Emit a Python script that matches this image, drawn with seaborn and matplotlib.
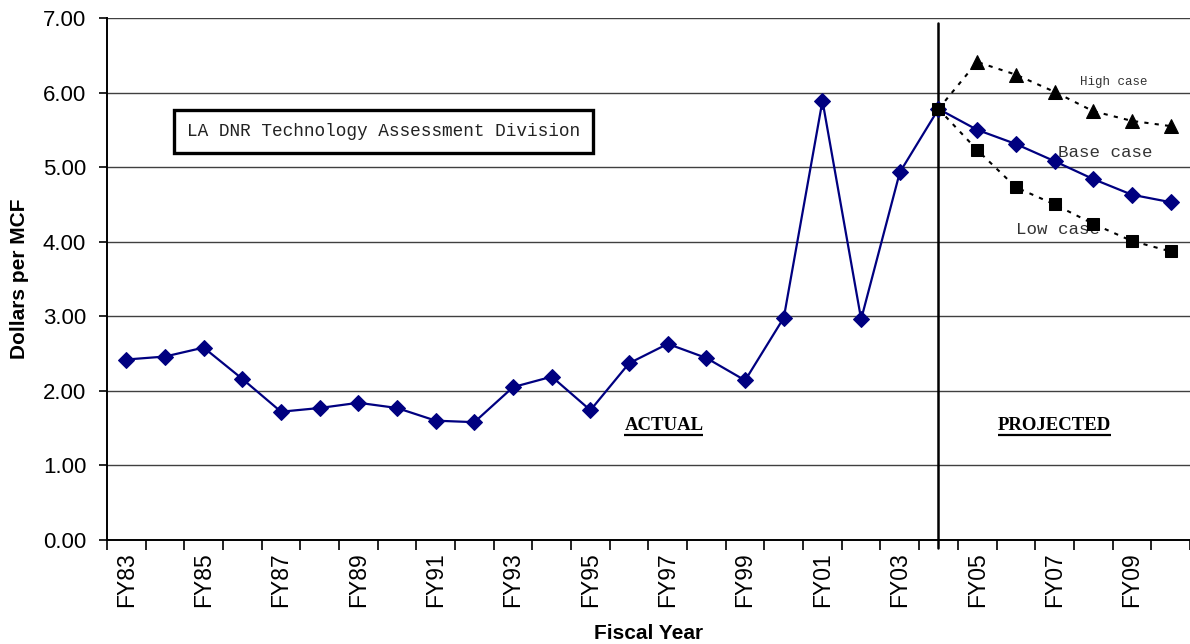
"""Louisiana natural gas price: actual (FY83-FY04) and projected cases (FY04-FY10)."""
import matplotlib

matplotlib.use("Agg")

import matplotlib.pyplot as plt  # noqa: E402
import pandas as pd  # noqa: E402
import seaborn as sns  # noqa: E402

YEARS = [f"FY{y % 100:02d}" for y in range(1983, 2011)]

# Actual price FY83..FY04, then base case FY05..FY10 (one continuous series)
ACTUAL = [2.42, 2.46, 2.58, 2.16, 1.72, 1.77, 1.84, 1.77, 1.60, 1.58,
          2.05, 2.19, 1.74, 2.37, 2.63, 2.44, 2.14, 2.98, 5.89, 2.96,
          4.93, 5.78]
BASE = [5.50, 5.31, 5.08, 4.84, 4.63, 4.53]

# Projection cases start at FY04
PROJ_YEARS = YEARS[21:]
HIGH = [5.78, 6.41, 6.24, 6.01, 5.75, 5.62, 5.55]
LOW = [5.78, 5.23, 4.73, 4.50, 4.24, 4.01, 3.87]

LABELED_YEARS = YEARS[:-1:2]
Y_TICKS = [0, 1, 2, 3, 4, 5, 6, 7]

NAVY = "#000080"

sns.set_theme(style="white")
plt.rcParams["font.family"] = ["Liberation Sans", "DejaVu Sans"]
plt.rcParams["text.color"] = "black"
plt.rcParams["axes.labelcolor"] = "black"
plt.rcParams["xtick.color"] = "black"
plt.rcParams["ytick.color"] = "black"

main = pd.DataFrame({"year": YEARS, "price": ACTUAL + BASE})
proj = pd.DataFrame({"year": PROJ_YEARS, "high": HIGH, "low": LOW})

fig = plt.figure(figsize=(11.9, 6.44), dpi=100)
ax = fig.add_axes([0.0899, 0.1615, 0.910, 0.8106])

sns.lineplot(data=main, x="year", y="price", sort=False, color=NAVY,
             linewidth=1.6, marker="D", markersize=8,
             markeredgecolor=NAVY, ax=ax, zorder=3)
sns.lineplot(data=proj, x="year", y="high", sort=False, color="black",
             linewidth=1.5, linestyle=(0, (2, 3)), marker="^",
             markersize=10, markeredgecolor="black",
             markevery=list(range(1, len(HIGH))), ax=ax, zorder=4)
sns.lineplot(data=proj, x="year", y="low", sort=False, color="black",
             linewidth=1.5, linestyle=(0, (2, 3)), marker="s",
             markersize=8.5, markeredgecolor="black", ax=ax, zorder=5)

ax.set_xlim(-0.5, len(YEARS) - 0.5)
ax.set_ylim(0, 7)

# horizontal gridlines
for v in Y_TICKS[1:]:
    ax.axhline(v, color="#404040", linewidth=1.0, zorder=1)

# actual / projected divider at FY04
ax.axvline(YEARS.index("FY04"), ymin=-0.016, ymax=0.99, color="black",
           linewidth=1.8, clip_on=False, zorder=2)

ax.set_yticks(Y_TICKS)
ax.set_yticklabels([f"{v:.2f}" for v in Y_TICKS], fontsize=16)
ax.set_xticks([YEARS.index(y) for y in LABELED_YEARS])
ax.set_xticklabels(LABELED_YEARS, rotation=90, fontsize=16.5)
ax.set_xticks([i - 0.5 for i in range(len(YEARS) + 1)], minor=True)
ax.tick_params(axis="x", which="major", length=0, pad=9)
ax.tick_params(axis="x", which="minor", length=7, width=1.2,
               color="black", direction="out", bottom=True)
ax.tick_params(axis="y", which="major", length=6, width=1.2,
               color="black", direction="out", left=True, pad=9)

for side in ("top", "right"):
    ax.spines[side].set_visible(False)
for side in ("left", "bottom"):
    ax.spines[side].set_color("black")
    ax.spines[side].set_linewidth(1.4)

ax.set_xlabel("Fiscal Year", fontsize=15, fontweight="bold", labelpad=12)
ax.set_ylabel("Dollars per MCF", fontsize=15, fontweight="bold", labelpad=10)

# annotations
ax.text(6.65, 5.48, "LA DNR Technology Assessment Division",
        family="Liberation Mono", fontsize=12.8, color="#222222",
        ha="center", va="center",
        bbox=dict(boxstyle="square,pad=0.72", facecolor="white",
                  edgecolor="black", linewidth=2.4))
section_labels = [
    ax.text(13.9, 1.53, "ACTUAL", family="Liberation Serif",
            fontweight="bold", fontsize=13.5, ha="center", va="center"),
    ax.text(24.0, 1.53, "PROJECTED", family="Liberation Serif",
            fontweight="bold", fontsize=13.5, ha="center", va="center"),
]
ax.text(24.65, 6.14, "High case", family="Liberation Mono", fontsize=9,
        color="#333333", va="center")
ax.text(24.1, 5.20, "Base case", family="Liberation Mono", fontsize=12.6,
        color="#333333", va="center")
ax.text(23.0, 4.17, "Low case", family="Liberation Mono", fontsize=12.6,
        color="#333333", va="center")

# underline the section labels
fig.canvas.draw()
renderer = fig.canvas.get_renderer()
inv = ax.transAxes.inverted()
for t in section_labels:
    bb = t.get_window_extent(renderer)
    (x0, y0), (x1, _) = inv.transform([(bb.x0, bb.y0 - 1), (bb.x1, bb.y0)])
    ax.plot([x0, x1], [y0, y0], transform=ax.transAxes, color="black",
            linewidth=1.6, solid_capstyle="butt")

fig.savefig("out.png", dpi=100)
plt.close(fig)
